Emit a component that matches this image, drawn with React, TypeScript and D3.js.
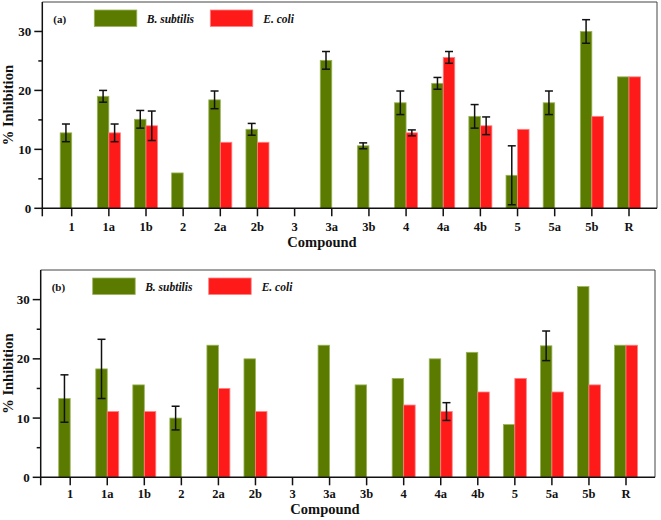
import * as d3 from "d3";

const categories = ["1", "1a", "1b", "2", "2a", "2b", "3", "3a", "3b", "4", "4a", "4b", "5", "5a", "5b", "R"];

// panel (a)
const bsA = [12.8, 19.0, 15.1, 6.0, 18.4, 13.4, null, 25.1, 10.6, 17.9, 21.2, 15.6, 5.6, 17.9, 30.0, 22.3];
const bsErrA = [1.5, 1.0, 1.5, 0, 1.5, 1.0, 0, 1.5, 0.5, 2.0, 1.0, 2.0, 5.0, 2.0, 2.0, 0];
const ecA = [null, 12.8, 14.0, null, 11.2, 11.2, null, null, null, 12.8, 25.6, 14.0, 13.4, null, 15.6, 22.3];
const ecErrA = [0, 1.5, 2.5, 0, 0, 0, 0, 0, 0, 0.5, 1.0, 1.5, 0, 0, 0, 0];

// panel (b)
const bsB = [13.3, 18.3, 15.6, 10.0, 22.3, 20.0, null, 22.3, 15.6, 16.7, 20.0, 21.1, 8.9, 22.2, 32.2, 22.3];
const bsErrB = [4.0, 5.0, 0, 2.0, 0, 0, 0, 0, 0, 0, 0, 0, 0, 2.5, 0, 0];
const ecB = [null, 11.1, 11.1, null, 15.0, 11.1, null, null, null, 12.2, 11.1, 14.4, 16.7, 14.4, 15.6, 22.3];
const ecErrB = [0, 0, 0, 0, 0, 0, 0, 0, 0, 0, 1.5, 0, 0, 0, 0, 0];

const yTicks = [0, 10, 20, 30];
const yMinor = [5, 15, 25];
const seriesNames = ["B. subtilis", "E. coli"];

const GREEN = "#5a7b00";
const GREEN_EDGE = "#9ab35a";
const RED = "#ff1a1a";
const RED_EDGE = "#ff8080";
const FONT = "'Liberation Serif', 'Times New Roman', serif";

type Vals = (number | null)[];

interface PanelProps {
  label: string;
  bs: Vals;
  bsErr: number[];
  ec: Vals;
  ecErr: number[];
  left: number;
  right: number;
  top: number;
  bottom: number;
  c0: number;
  cN: number;
  titleX: number;
  titleY: number;
  tickY: number;
}

function Panel(p: PanelProps) {
  const x = d3.scaleLinear().domain([0, categories.length - 1]).range([p.c0, p.cN]);
  const y = d3.scaleLinear().domain([0, 35]).range([p.bottom, p.top]);
  const step = x(1) - x(0);
  const bw = step * 0.31;

  const bars = (vals: Vals, errs: number[], color: string, edge: string, side: number) =>
    vals.map((v, i) => {
      if (v == null) return null;
      const x0 = side < 0 ? x(i) - bw : x(i);
      const cx = x0 + bw / 2;
      const e = errs[i];
      return (
        <g key={`${color}-${i}`}>
          <rect x={x0} y={y(v)} width={bw} height={y(0) - y(v)} fill={color} stroke={edge} strokeWidth={0.8} />
          {e > 0 && (
            <g stroke="#111" strokeWidth={1.5}>
              <line x1={cx} x2={cx} y1={y(v + e)} y2={y(Math.max(v - e, 0))} />
              <line x1={cx - 4} x2={cx + 4} y1={y(v + e)} y2={y(v + e)} />
              <line x1={cx - 4} x2={cx + 4} y1={y(Math.max(v - e, 0))} y2={y(Math.max(v - e, 0))} />
            </g>
          )}
        </g>
      );
    });

  const legY = p.top + 8;
  const legH = 16.5;
  const legX = p.left + 52;

  return (
    <g fontFamily={FONT} fontWeight="bold" fill="#111">
      {/* frame */}
      <line x1={p.left} x2={p.right} y1={p.top} y2={p.top} stroke="#444" strokeWidth={1} />
      <line x1={p.right} x2={p.right} y1={p.top} y2={p.bottom} stroke="#444" strokeWidth={1} />

      {bars(p.bs, p.bsErr, GREEN, GREEN_EDGE, -1)}
      {bars(p.ec, p.ecErr, RED, RED_EDGE, 1)}

      {/* axes */}
      <line x1={p.left} x2={p.right} y1={p.bottom} y2={p.bottom} stroke="#111" strokeWidth={1.5} />
      <line x1={p.left} x2={p.left} y1={p.top} y2={p.bottom + 8} stroke="#111" strokeWidth={1.5} />
      {yTicks.map((t) => (
        <g key={`yt${t}`}>
          <line x1={p.left - 8} x2={p.left} y1={y(t)} y2={y(t)} stroke="#111" strokeWidth={1.5} />
          <text x={p.left - 11} y={y(t) + 4.5} textAnchor="end" fontSize={13}>
            {t}
          </text>
        </g>
      ))}
      {yMinor.map((t) => (
        <line key={`ym${t}`} x1={p.left - 4} x2={p.left} y1={y(t)} y2={y(t)} stroke="#111" strokeWidth={1.5} />
      ))}
      {categories.map((c, i) => (
        <g key={`xt${c}`}>
          <line x1={x(i)} x2={x(i)} y1={p.bottom} y2={p.bottom + 8} stroke="#111" strokeWidth={1.5} />
          <text x={x(i)} y={p.tickY} textAnchor="middle" fontSize={12.5}>
            {c}
          </text>
        </g>
      ))}
      <text x={p.titleX} y={p.titleY} textAnchor="middle" fontSize={14.5}>
        Compound
      </text>
      <text
        transform={`translate(13,${(p.top + p.bottom) / 2}) rotate(-90)`}
        textAnchor="middle"
        fontSize={14.5}
      >
        % Inhibition
      </text>

      {/* legend */}
      <text x={p.left + 11} y={legY + 12.5} fontSize={11}>
        {p.label}
      </text>
      <rect x={legX} y={legY} width={42.5} height={legH} fill={GREEN} stroke={GREEN_EDGE} strokeWidth={0.8} />
      <text x={legX + 52.5} y={legY + 12.5} fontSize={11.5} fontStyle="italic">
        {seriesNames[0]}
      </text>
      <rect x={legX + 116} y={legY} width={42.5} height={legH} fill={RED} stroke={RED_EDGE} strokeWidth={0.8} />
      <text x={legX + 169} y={legY + 12.5} fontSize={11.5} fontStyle="italic">
        {seriesNames[1]}
      </text>
    </g>
  );
}

export default function App() {
  return (
    <svg width={661} height={520} style={{ position: "absolute", left: 0, top: 0, background: "#fff" }}>
      <Panel
        label="(a)"
        bs={bsA}
        bsErr={bsErrA}
        ec={ecA}
        ecErr={ecErrA}
        left={42.3}
        right={657}
        top={2}
        bottom={208.3}
        c0={71.7}
        cN={629}
        titleX={322}
        titleY={246.5}
        tickY={230.5}
      />
      <Panel
        label="(b)"
        bs={bsB}
        bsErr={bsErrB}
        ec={ecB}
        ecErr={ecErrB}
        left={40.7}
        right={655}
        top={270}
        bottom={477.3}
        c0={70.2}
        cN={626}
        titleX={325}
        titleY={514}
        tickY={497.5}
      />
    </svg>
  );
}
